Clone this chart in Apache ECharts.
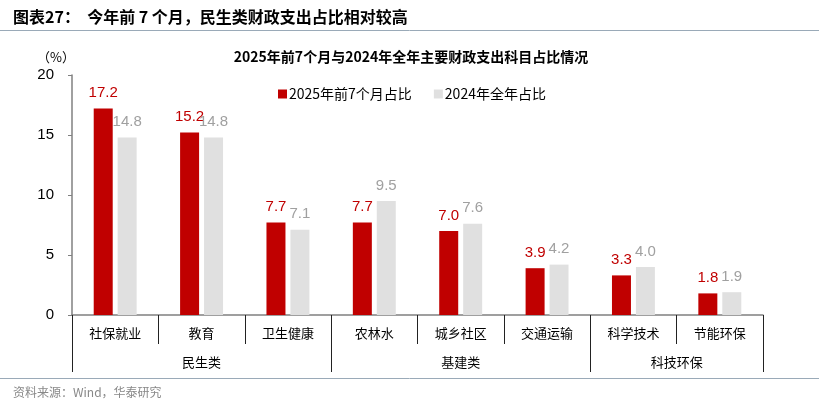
<!DOCTYPE html>
<html>
<head>
<meta charset="utf-8">
<script src="https://cdn.jsdelivr.net/npm/echarts@6/dist/echarts.min.js"></script>
<style>
  html, body { margin: 0; padding: 0; background: #fff; }
  #wrap { position: relative; width: 819px; height: 399px; }
  #chart { position: absolute; left: 0; top: 0; width: 819px; height: 399px; }
</style>
</head>
<body>
<div id="wrap"><div id="chart"></div></div>
<script>
const categories = ['社保就业', '教育', '卫生健康', '农林水', '城乡社区', '交通运输', '科学技术', '节能环保']
const groupNames = ['民生类', '基建类', '科技环保']
const groupSizes = [3, 3, 2]
const seriesNames = ['2025年前7个月占比', '2024年全年占比']
const values2025 = [17.2, 15.2, 7.7, 7.7, 7.0, 3.9, 3.3, 1.8]
const values2024 = [14.8, 14.8, 7.1, 9.5, 7.6, 4.2, 4.0, 1.9]
const yTicks = [0, 5, 10, 15, 20]

const RED = '#C00000'
const GREY = '#E0E0E0'
const CJK = '"Noto Sans CJK SC", sans-serif'
const LATIN = '"Liberation Sans", Arial, sans-serif'

// group boundaries and centres on a 0..n value scale
const bounds = [0]
groupSizes.forEach(s => bounds.push(bounds[bounds.length - 1] + s))
const centres = groupSizes.map((s, i) => bounds[i] + s / 2)

const chart = echarts.init(document.getElementById('chart'))

chart.setOption({
  animation: false,
  title: [
    {
      text: '图表27：  今年前 7 个月，民生类财政支出占比相对较高',
      left: 8, top: 4,
      textStyle: { fontFamily: CJK, fontSize: 16, fontWeight: 'bold', color: '#000' }
    },
    {
      text: '2025年前7个月与2024年全年主要财政支出科目占比情况',
      left: 406, top: 45, textAlign: 'center',
      textStyle: { fontFamily: CJK, fontSize: 14, fontWeight: 'bold', color: '#000' }
    },
    {
      text: '（%）',
      left: 32, top: 46,
      textStyle: { fontFamily: CJK, fontSize: 13, fontWeight: 'normal', color: '#000' }
    },
    {
      text: '资料来源：Wind，华泰研究',
      left: 8, top: 381,
      textStyle: { fontFamily: CJK, fontSize: 12, fontWeight: 'normal', color: '#888' }
    }
  ],
  graphic: [
    { type: 'line', shape: { x1: 0, y1: 30.5, x2: 819, y2: 30.5 }, style: { stroke: '#9AAAB8', lineWidth: 1 } },
    { type: 'line', shape: { x1: 0, y1: 378.5, x2: 819, y2: 378.5 }, style: { stroke: '#9AAAB8', lineWidth: 1 } }
  ],
  legend: {
    data: seriesNames,
    left: 273, top: 82,
    itemWidth: 9, itemHeight: 9, itemGap: 22,
    icon: 'rect',
    textStyle: { fontFamily: CJK, fontSize: 14, color: '#000', padding: [0, 0, 0, -3] }
  },
  grid: { left: 72, right: 56, top: 75, bottom: 84 },
  xAxis: [
    {
      type: 'category',
      data: categories,
      axisLine: { lineStyle: { color: '#808080', width: 1.5 } },
      axisTick: { show: true, length: 29, alignWithLabel: false, lineStyle: { color: '#222', width: 1 } },
      axisLabel: { fontFamily: CJK, fontSize: 13, color: '#000', margin: 12 }
    },
    {
      type: 'value',
      position: 'bottom',
      offset: 29,
      min: 0, max: categories.length,
      axisLine: { show: false },
      splitLine: { show: false },
      axisTick: { show: true, length: 28, customValues: bounds, lineStyle: { color: '#222', width: 1 } },
      axisLabel: {
        show: true, customValues: centres, margin: 12,
        fontFamily: CJK, fontSize: 13, color: '#000',
        formatter: v => groupNames[centres.indexOf(v)] || ''
      }
    }
  ],
  yAxis: {
    type: 'value',
    min: yTicks[0], max: yTicks[yTicks.length - 1], interval: 5,
    axisLine: { show: true, lineStyle: { color: '#808080', width: 1.5 } },
    axisTick: { show: true, length: 4, lineStyle: { color: '#808080' } },
    splitLine: { show: false },
    axisLabel: { fontFamily: LATIN, fontSize: 15, color: '#000', margin: 18 }
  },
  series: [
    {
      name: seriesNames[0],
      type: 'bar',
      data: values2025,
      barWidth: 19,
      barGap: '26%',
      itemStyle: { color: RED },
      label: {
        show: true, position: 'top', distance: 8,
        formatter: p => p.value.toFixed(1),
        fontFamily: LATIN, fontSize: 15, color: RED
      }
    },
    {
      name: seriesNames[1],
      type: 'bar',
      data: values2024,
      barWidth: 19,
      itemStyle: { color: GREY },
      label: {
        show: true, position: 'top', distance: 8,
        formatter: p => p.value.toFixed(1),
        fontFamily: LATIN, fontSize: 15, color: '#A0A0A0'
      }
    }
  ]
})
</script>
</body>
</html>
